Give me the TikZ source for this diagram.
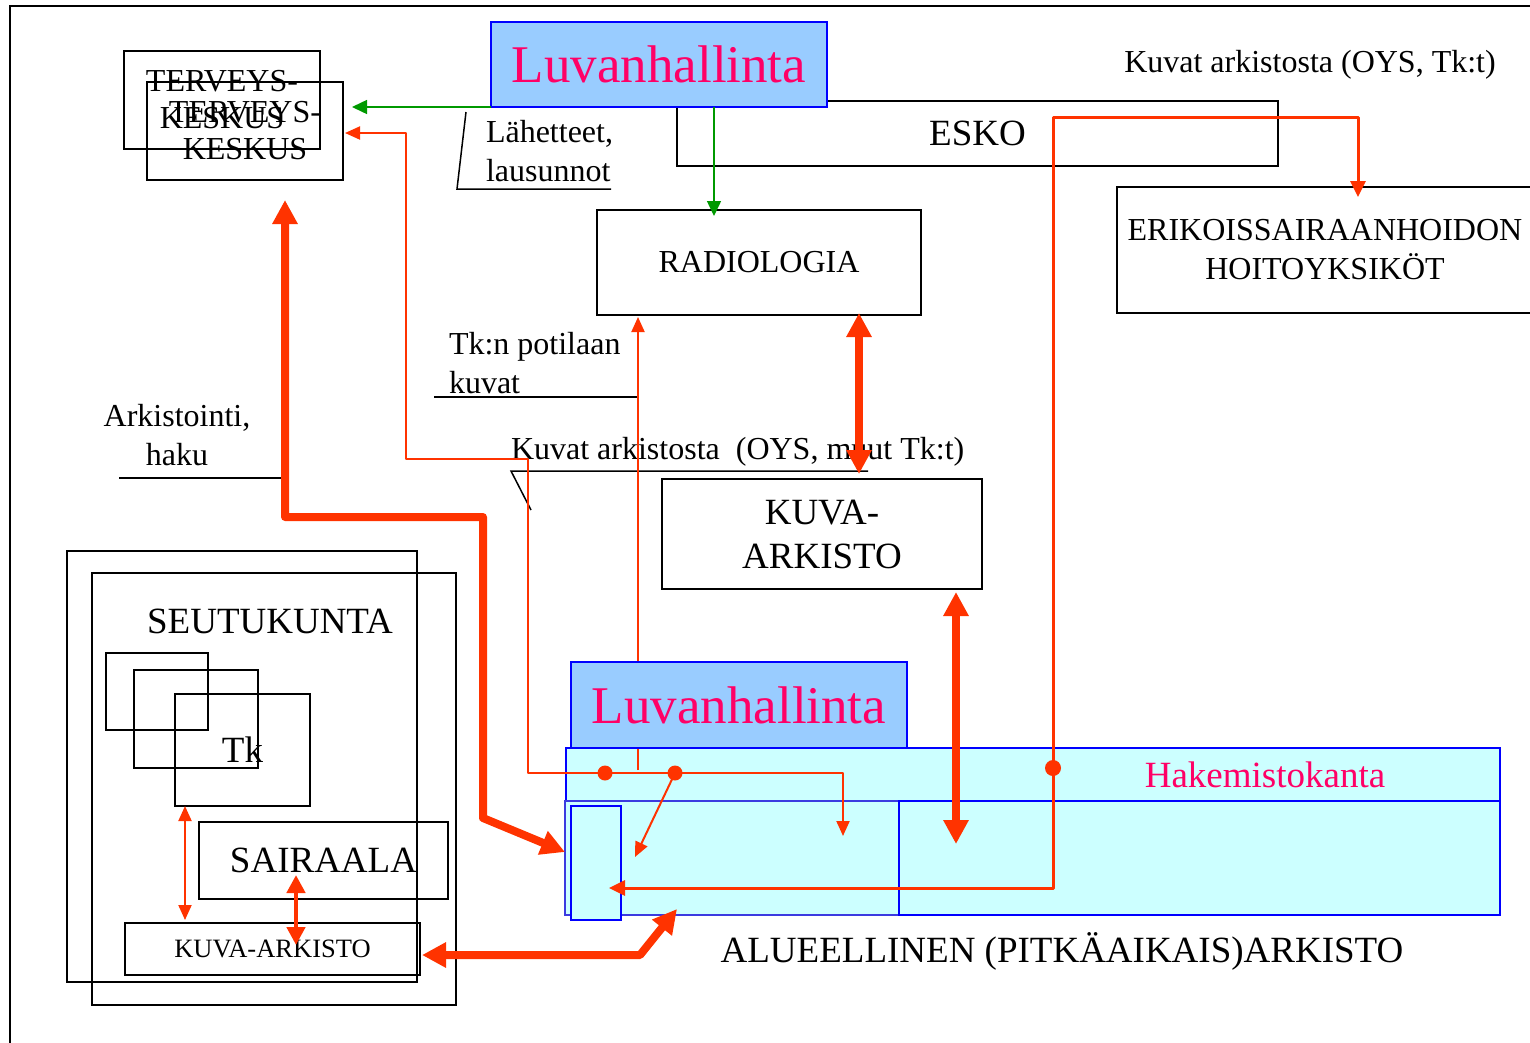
\documentclass[tikz,border=0pt]{standalone}
\usepackage{fontspec}
\setmainfont{Liberation Serif}
\usetikzlibrary{arrows.meta}
\definecolor{rd}{HTML}{FF3300}
\definecolor{gr}{HTML}{009900}
\definecolor{bl}{HTML}{0000FF}
\definecolor{bll}{HTML}{3B3BE0}
\definecolor{lblue}{HTML}{99CCFF}
\definecolor{lcyan}{HTML}{CCFFFF}
\definecolor{mag}{HTML}{FF0066}
\newcommand\fM{\fontsize{32}{37}\selectfont}
\newcommand\fMM{\fontsize{32}{39}\selectfont}
\newcommand\fL{\fontsize{37}{44}\selectfont}
\newcommand\fXL{\fontsize{53}{60}\selectfont}
\newcommand\fS{\fontsize{26.5}{30}\selectfont}
\tikzset{
  bx/.style={draw=black, line width=1.5pt, anchor=north west, inner sep=0pt, outer sep=0pt, align=center},
  luv/.style={bx, draw=bl, fill=lblue, line width=2pt, text=mag, font=\fXL},
  arcbox/.style={bx, draw=bl, fill=lcyan, line width=2pt},
  txt/.style={inner sep=0pt, outer sep=0pt, align=center},
  cl/.style={draw=black, line width=1.5pt},
  garr/.style={draw=gr, line width=1.5pt, -{Triangle[length=15pt,width=14pt]}},
  rthin/.style={draw=rd, line width=2pt, line join=round},
  thintip/.style={-{Triangle[length=15pt,width=13pt]}},
  rmed/.style={draw=rd, line width=3pt},
  medtip/.style={-{Triangle[length=16pt,width=15pt]}},
  rthick/.style={draw=rd, line width=8pt, line join=round, {Triangle[length=24pt,width=24pt]}-{Triangle[length=24pt,width=24pt]}},
  rdm/.style={draw=rd, line width=4.5pt, {Triangle[length=18pt,width=18pt]}-{Triangle[length=18pt,width=18pt]}},
  dot/.style={circle, fill=rd, inner sep=0pt, minimum size=15pt},
}
\begin{document}
\begin{tikzpicture}[x=1pt,y=-1pt]
\useasboundingbox (0,0) rectangle (1530,1042);
% frame
\draw[line width=2pt] (10,1050) -- (10,6) -- (1540,6);

% top area
\node[bx, minimum width=601, minimum height=65, font=\fL] (esko) at (677,101) {ESKO};
\node[luv, minimum width=336, minimum height=85] (luv1) at (491,22) {Luvanhallinta};

\node[bx, minimum width=196, minimum height=98, font=\fM] (tk1) at (124,51) {TERVEYS-\\KESKUS};
\node[bx, minimum width=196, minimum height=98, font=\fM] (tk2) at (147,82) {TERVEYS-\\KESKUS};

\node[bx, minimum width=324, minimum height=105, font=\fM] (rad) at (597,210) {RADIOLOGIA};
\node[bx, minimum width=416, minimum height=126, font=\fMM] (eri) at (1117,187) {ERIKOISSAIRAANHOIDON\\HOITOYKSIKÖT};
\node[bx, minimum width=320, minimum height=110, font=\fL] (ka) at (662,479) {KUVA-\\ARKISTO};

\node[txt, font=\fM] (t1) at (1310,65) {Kuvat arkistosta (OYS, Tk:t)};
\node[txt, font=\fMM, anchor=west, align=left] (t2) at (486,151) {Lähetteet,\\lausunnot};
\node[txt, font=\fMM, anchor=west, align=left] (t3) at (449,363) {Tk:n potilaan\\kuvat};
\node[txt, font=\fMM] (t4) at (177,435) {Arkistointi,\\haku};
\node[txt, font=\fM, anchor=west] (t5) at (511,452) {Kuvat arkistosta\ \ (OYS, muut Tk:t)};

% callout lines
\draw[cl] (466,112) -- (457,189) -- (611,189);
\draw[cl] (434,397) -- (638,397);
\draw[cl] (531,510) -- (511,471) -- (868,471);
\draw[cl] (119,478) -- (289,478);

% green arrows
\coordinate (g1) at (352,107);
\coordinate (g2a) at (714,107);
\coordinate (g2b) at (714,216);
\draw[garr] (luv1.south west) -- (g1);
\draw[garr] (g2a) -- (g2b);

% archive
\node[arcbox, minimum width=934, minimum height=53] (hak) at (566,748) {};
\node[txt, font=\fL, text=mag] (hakt) at (1265,775) {Hakemistokanta};
\node[arcbox, draw=bll, minimum width=334, minimum height=114] (arcL) at (565,801) {};
\node[arcbox, minimum width=601, minimum height=114] (arcR) at (899,801) {};
\node[arcbox, minimum width=50, minimum height=114] (arcS) at (571,806) {};
\node[txt, font=\fL] (alue) at (1062,951) {ALUEELLINEN (PITKÄAIKAIS)ARKISTO};

% thin red line to radiologia (under luv2)
\coordinate (r1a) at (638,770);
\coordinate (r1b) at (638,317);
\draw[rthin, thintip] (r1a) -- (r1b);
\node[luv, minimum width=336, minimum height=86] (luv2) at (571,662) {Luvanhallinta};

% red thin paths
\node[dot] (d1) at (605,773) {};
\node[dot] (d2) at (675,773) {};
\node[dot, minimum size=16pt] (d3) at (1053,768) {};
\coordinate (tkarr) at (345,133);
\coordinate (hk1) at (843,836);
\coordinate (hk2) at (635,857);
\draw[rthin, thintip] (d1.center) -- (528,773) -- (528,459) -- (406,459) -- (406,133) -- (tkarr);
\draw[rthin, thintip] (d1.center) -- (d2.center) -- (843,773) -- (hk1);
\draw[rthin, thintip] (d2.center) -- (hk2);
\coordinate (erarr) at (1358,197);
\coordinate (sarr) at (609,888);
\draw[rmed, medtip, line join=round] (d3.center) -- (1053,117) -- (1358,117) -- (erarr);
\draw[rmed, medtip, line join=round] (d3.center) -- (1053,888) -- (sarr);

% bottom left
\node[bx, minimum width=350, minimum height=431] (seutA) at (67,551) {};
\node[bx, minimum width=364, minimum height=432] (seutB) at (92,573) {};
\node[txt, font=\fL] (seut) at (270,621) {SEUTUKUNTA};
\node[bx, minimum width=102, minimum height=77] (s1) at (106,653) {};
\node[bx, minimum width=124, minimum height=98] (s2) at (134,670) {};
\node[bx, minimum width=135, minimum height=112, font=\fL] (s3) at (175,694) {Tk};
\node[bx, minimum width=249, minimum height=77, font=\fL] (sair) at (199,822) {SAIRAALA};
\node[bx, minimum width=295, minimum height=52, font=\fS] (ka2) at (125,923) {KUVA-ARKISTO};

\coordinate (v1a) at (185,806);
\coordinate (v1b) at (185,920);
\draw[rthin, {Triangle[length=15pt,width=13pt]}-{Triangle[length=15pt,width=13pt]}] (v1a) -- (v1b);
\coordinate (v2a) at (296,875);
\coordinate (v2b) at (296,945);
\draw[rdm] (v2a) -- (v2b);

% thick arrows
\coordinate (ta) at (285,200);
\coordinate (tb) at (565,852);
\draw[rthick] (ta) -- (285,517) -- (483,517) -- (483,818) -- (tb);
\coordinate (rk1) at (859,313);
\coordinate (rk2) at (859,474);
\draw[rthick] (rk1) -- (rk2);
\coordinate (ka1) at (956,592);
\coordinate (ka3) at (956,844);
\draw[rthick] (ka1) -- (ka3);
\coordinate (bb1) at (422,955);
\coordinate (bb2) at (677,909);
\draw[rthick] (bb1) -- (640,955) -- (bb2);
\end{tikzpicture}
\end{document}
